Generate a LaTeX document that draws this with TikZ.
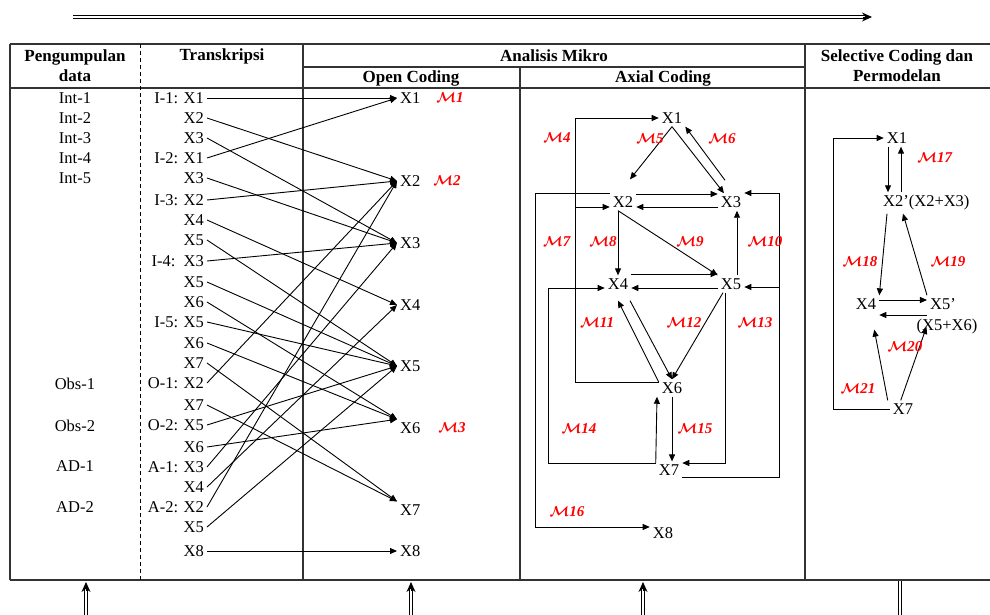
\documentclass[tikz,border=0pt]{standalone}
\usepackage{fontspec}
\setmainfont{Liberation Serif}
\usetikzlibrary{arrows.meta,positioning}

\newcommand{\mcode}[1]{{\boldmath$\mathcal{M}$}\textbf{\textit{#1}}}

\tikzset{
  hdr/.style={font=\fontsize{17}{20}\selectfont\bfseries, align=center, inner sep=1pt},
  item/.style={font=\fontsize{16.5}{19}\selectfont, inner sep=3pt},
  mlabel/.style={font=\fontsize{15}{17}\selectfont, text=red, inner sep=1pt},
  arr/.style={-{Triangle[length=7pt,width=6pt]}, line width=0.9pt},
  tabline/.style={line width=1.1pt, draw=black!80},
  bigarrow/.style={double, double distance=2.2pt, line width=0.9pt},
  tiphead/.style={-{Stealth[length=10pt,width=9pt]}, line width=0.9pt},
}

\begin{document}
\begin{tikzpicture}[x=1pt,y=-1pt]
  \useasboundingbox (0,0) rectangle (990,615);
  % Process arrow
  \coordinate (topL) at (73,17);
  \coordinate (topR) at (872,17);
  \draw[bigarrow, shorten >=6pt] (topL) -- (topR);
  \draw[tiphead] ([xshift=-9pt]topR) -- (topR);
  % Table frame
  \draw[tabline] (10,44) -- (990,44) (303,67) -- (805,67) (10,88) -- (990,88) (10,580) -- (990,580);
  \draw[tabline] (10,44) -- (10,580) (303,44) -- (303,580) (520,67) -- (520,580) (805,44) -- (805,580);
  \draw[line width=0.8pt, dash pattern=on 4pt off 3pt] (140,44) -- (140,580);
  % Headers
  \node[hdr] (hdata) at (75,66) {Pengumpulan\\data};
  \node[hdr] (htrans) at (222,56) {Transkripsi};
  \node[hdr] (hmikro) at (554,56) {Analisis Mikro};
  \node[hdr] (hopen) at (411,78) {Open Coding};
  \node[hdr] (haxial) at (663,78) {Axial Coding};
  \node[hdr] (hsel) at (897,66) {Selective Coding dan\\Permodelan};

  % Data sources
  \foreach \txt/\y [count=\i] in {Int-1/98, Int-2/118, Int-3/138, Int-4/158, Int-5/178,
    Obs-1/384, Obs-2/426, AD-1/466, AD-2/507}
    \node[item] (d\i) at (75,\y) {\txt};

  % Transcripts
  \foreach \txt/\y [count=\i] in {I-1: X1/98, X2/118, X3/138, I-2: X1/158, X3/178,
    I-3: X2/200, X4/220, X5/240, I-4:\ \ X3/261, X5/282, X6/302, I-5: X5/322, X6/343,
    X7/363, O-1: X2/383, X7/405, O-2: X5/425, X6/447, A-1: X3/467, X4/487,
    A-2: X2/507, X5/527, X8/551}
    \node[item, anchor=east] (t\i) at (207,\y) {\txt};

  % Open coding
  \foreach \y [count=\i] in {98,181,243,305,366,428,510,551}
    \node[item, anchor=west] (o\i) at (397,\y) {X\i};
  \foreach \s/\e in {1/o1.west, 2/o2.west, 3/o3.west, 4/o1.west, 5/o3.west,
    6/o2.west, 7/o4.west, 8/o5.west, 9/o3.west, 10/o5.west, 11/o6.north west,
    12/o5.west, 13/o6.north west, 14/o7.north west, 15/o2.west, 16/o7.north west,
    17/o5.west, 18/o6.north west, 19/o3.west, 20/o4.west, 21/o2.west,
    22/o5.west, 23/o8.west}
    \draw[arr] (t\s.east) -- (\e);
  \node[mlabel] (m1) at (450,98) {\mcode{1}};
  \node[mlabel] (m2) at (447,181) {\mcode{2}};
  \node[mlabel] (m3) at (452,428) {\mcode{3}};

  % Axial coding
  \node[item] (a1) at (672,118) {X1};
  \node[item] (a2) at (623,202) {X2};
  \node[item] (a3) at (731,202) {X3};
  \node[item] (a4) at (618,284) {X4};
  \node[item] (a5) at (731,284) {X5};
  \node[item] (a6) at (672,388) {X6};
  \node[item] (a7) at (669,470) {X7};
  \node[item] (a8) at (663,533) {X8};
  % M4 loop
  \draw[arr] ([yshift=6pt]a6.west) -- (575,382) |- (a1.west);
  \draw[arr] (575,207) -- ([yshift=-5pt]a2.west);
  % M5, M6
  \draw[arr] (a1.south) -- ([xshift=7pt,yshift=14pt]a2.north);
  \draw[arr] (a1.south) -- ([xshift=-7pt]a3.north);
  \draw[arr] ([xshift=-6pt,yshift=13pt]a3.north) -- (a1.south east);
  \draw[arr] ([yshift=8pt]a2.east) -- ([yshift=8pt]a3.west);
  \draw[arr] ([yshift=-5pt]a3.west) -- ([yshift=-5pt]a2.east);
  % M7 / M16 loop
  \draw[arr] ([yshift=9pt]a2.west) -| (535,527) -- ([yshift=6pt]a8.west);
  % M8, M9
  \draw[arr] (a4.north |- a2.south) -- (a4.north);
  \draw[arr] (a4.north |- a2.south) -- (a5.north west);
  \draw[arr] ([yshift=10pt]a4.east) -- ([yshift=10pt]a5.west);
  \draw[arr] ([yshift=-4pt]a5.west) -- ([yshift=-4pt]a4.east);
  % M10
  \draw[arr] ([xshift=6pt]a5.north) -- ([xshift=6pt]a3.south);
  % M13 loop
  \draw[arr] ([yshift=-7pt]a7.east) -| (779,193) -- ([yshift=9pt]a3.east);
  \draw[arr] (779,287) -- ([yshift=-3pt]a5.east);
  % M11, M12
  \draw[arr] ([yshift=6pt]a6.west) -- ([yshift=-8pt]a4.south);
  \draw[arr] ([xshift=12pt,yshift=-8pt]a4.south) -- (a6.north);
  \draw[arr] ([xshift=-8pt]a5.south) -- (a6.north);
  \draw[arr] ([xshift=-6pt]a5.south) |- ([yshift=7pt]a7.east);
  % M14 loop
  \draw[arr] ([yshift=7pt]a7.west) -| (548,288) -- ([yshift=-4pt]a4.west);
  \draw[arr] ([yshift=7pt]a7.west) -- ([xshift=-15pt]a6.south);
  % M15
  \draw[arr] (a6.south) -- (a6.south |- a7.north);
  \foreach \n/\x/\y in {4/557/138, 5/650/139, 6/722/139, 7/557/242, 8/603/242,
    9/690/242, 10/765/242, 11/597/323, 12/684/323, 13/755/323, 14/579/429,
    15/695/429, 16/567/512}
    \node[mlabel] (m\n) at (\x,\y) {\mcode{\n}};

  % Selective coding
  \node[item] (s1) at (897,138) {X1};
  \node[item, anchor=west] (s2) at (880,203) {X2’(X2+X3)};
  \node[item] (s4) at (866,304) {X4};
  \node[item] (s5) at (943,304) {X5’};
  \node[item] (s5b) at (947,327) {(X5+X6)};
  \node[item] (s7) at (903,409) {X7};
  \draw[arr] (s7.west) -- (833,409) |- (s1.west);
  \draw[arr] ([xshift=-9pt]s1.south) -- ([xshift=8pt]s2.north west);
  \draw[arr] ([xshift=21pt]s2.north west) -- ([xshift=4pt]s1.south);
  \draw[arr] ([xshift=7pt]s2.south west) -- (s4.north east);
  \draw[arr] (s5.north west) -- ([xshift=23pt]s2.south west);
  \draw[arr] ([yshift=4pt]s4.east) -- ([yshift=4pt]s5.west);
  \draw[arr] ([yshift=-11pt]s5.west) -- ([yshift=-11pt]s4.east);
  \draw[arr] ([xshift=-2pt]s7.north west) -- ([xshift=-5pt,yshift=-17pt]s4.south east);
  \draw[arr] ([xshift=11pt]s7.north west) -- ([xshift=13pt]s5b.west);
  \node[mlabel] (m17) at (935,158) {\mcode{17}};
  \node[mlabel] (m18) at (860,262) {\mcode{18}};
  \node[mlabel] (m19) at (948,262) {\mcode{19}};
  \node[mlabel] (m20) at (905,347) {\mcode{20}};
  \node[mlabel] (m21) at (858,389) {\mcode{21}};

  % Feedback arrows
  \foreach \x [count=\i] in {86,411,643} {
    \coordinate (bs\i) at (\x,615);
    \coordinate (be\i) at (\x,582);
    \draw[bigarrow, shorten >=6pt] (bs\i) -- (be\i);
    \draw[tiphead] ([yshift=-9pt]be\i) -- (be\i);
  }
  \coordinate (bs4) at (900,615);
  \coordinate (be4) at (900,581);
  \draw[bigarrow] (bs4) -- (be4);
\end{tikzpicture}
\end{document}
